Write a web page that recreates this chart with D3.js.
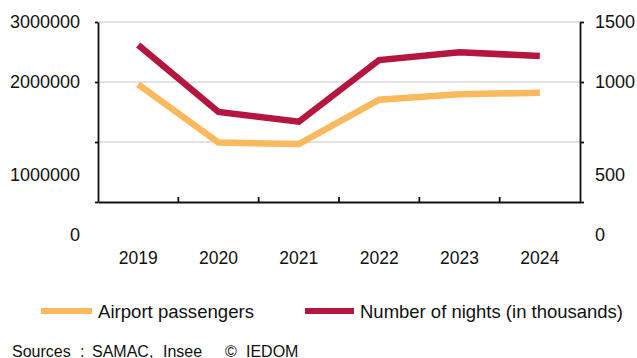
<!DOCTYPE html>
<html>
<head>
<meta charset="utf-8">
<script src="https://cdn.jsdelivr.net/npm/d3@7/dist/d3.min.js"></script>
<style>
  html, body { margin: 0; padding: 0; background: #fff; }
  svg { display: block; font-family: "Liberation Sans", Arial, sans-serif; }
  text { fill: #111; }
</style>
</head>
<body>
<svg id="chart" width="637" height="358"></svg>
<script>
// Years on the horizontal axis
const years = ["2019", "2020", "2021", "2022", "2023", "2024"];
// Airport passengers (left axis)
const passengers = [1960000, 990000, 967000, 1705000, 1795000, 1820000];
// Number of nights, in thousands (right axis)
const nights = [1308, 750, 669, 1183, 1247, 1217];
// Axis ticks
const leftTicks = [0, 1000000, 2000000, 3000000];
const rightTicks = [0, 500, 1000, 1500];
// Legend entries
const seriesNames = ["Airport passengers", "Number of nights (in thousands)"];
// Source note, word by word
const sourceWords = ["Sources", ":", "SAMAC,", "Insee", "\u00a9", "IEDOM"];

const colors = { passengers: "#F9B95C", nights: "#B5163F" };

const svg = d3.select("#chart");
const plot = { left: 98, right: 580, top: 22, bottom: 202 };

const x = d3.scaleBand().domain(years).range([plot.left, plot.right]);
const yL = d3.scaleLinear().domain([0, 3000000]).range([plot.bottom, plot.top]);
const yR = d3.scaleLinear().domain([0, 1500]).range([plot.bottom, plot.top]);
// Tick labels sit lower than their ticks for the lower values
const labelL = d3.scaleLinear().domain([0, 1000000, 2000000, 3000000]).range([235, 175, 82, 22]);
const labelR = d3.scaleLinear().domain([0, 500, 1000, 1500]).range([235, 175, 82, 22]);

// Horizontal gridlines
svg.append("g")
  .selectAll("line")
  .data(leftTicks.filter(d => d > 0))
  .join("line")
  .attr("x1", plot.left).attr("x2", plot.right)
  .attr("y1", d => yL(d)).attr("y2", d => yL(d))
  .attr("stroke", "#d9d9d9").attr("stroke-width", 1.5);

// Left axis
const gL = svg.append("g").attr("transform", `translate(${plot.left},0)`)
  .call(d3.axisLeft(yL).tickValues(leftTicks).tickSize(3).tickSizeOuter(0).tickFormat(""));
// Right axis
const gR = svg.append("g").attr("transform", `translate(${plot.right},0)`)
  .call(d3.axisRight(yR).tickValues(rightTicks).tickSize(4).tickSizeOuter(0).tickFormat(""));
// Bottom axis with ticks between categories
const gB = svg.append("g").attr("transform", `translate(0,${plot.bottom})`)
  .call(d3.axisBottom(x).tickSize(0).tickFormat(""));
gB.selectAll(".tick").remove();
gB.selectAll("line.sep")
  .data(years.slice(1))
  .join("line")
  .attr("class", "sep")
  .attr("x1", d => x(d)).attr("x2", d => x(d))
  .attr("y1", 0).attr("y2", -5);

[gL, gR, gB].forEach(g => {
  g.select(".domain").attr("stroke", "#111").attr("stroke-width", 1.8);
  g.selectAll("line").attr("stroke", "#111").attr("stroke-width", 1.8);
});

// Axis labels
svg.append("g").selectAll("text")
  .data(leftTicks).join("text")
  .attr("x", 80).attr("y", d => labelL(d))
  .attr("text-anchor", "end").attr("dominant-baseline", "central")
  .attr("font-size", 18)
  .text(d => d3.format("d")(d));

svg.append("g").selectAll("text")
  .data(rightTicks).join("text")
  .attr("x", 595).attr("y", d => labelR(d))
  .attr("text-anchor", "start").attr("dominant-baseline", "central")
  .attr("font-size", 18)
  .text(d => d3.format("d")(d));

svg.append("g").selectAll("text")
  .data(years).join("text")
  .attr("x", d => x(d) + x.bandwidth() / 2).attr("y", 258)
  .attr("text-anchor", "middle").attr("dominant-baseline", "central")
  .attr("font-size", 17.5)
  .text(d => d);

// Series lines
const lineL = d3.line().x((d, i) => x(years[i]) + x.bandwidth() / 2).y(d => yL(d));
const lineR = d3.line().x((d, i) => x(years[i]) + x.bandwidth() / 2).y(d => yR(d));

svg.append("path").datum(passengers)
  .attr("d", lineL).attr("fill", "none")
  .attr("stroke", colors.passengers).attr("stroke-width", 6.5)
  .attr("stroke-linejoin", "miter");

svg.append("path").datum(nights)
  .attr("d", lineR).attr("fill", "none")
  .attr("stroke", colors.nights).attr("stroke-width", 6.5)
  .attr("stroke-linejoin", "miter");

// Legend
const legend = [
  { name: seriesNames[0], color: colors.passengers, x0: 41, x1: 92, tx: 98, w: 156 },
  { name: seriesNames[1], color: colors.nights, x0: 305, x1: 354, tx: 360, w: 263 }
];
const lg = svg.append("g").selectAll("g").data(legend).join("g");
lg.append("line")
  .attr("x1", d => d.x0).attr("x2", d => d.x1)
  .attr("y1", 311).attr("y2", 311)
  .attr("stroke", d => d.color).attr("stroke-width", 6);
lg.append("text")
  .attr("x", d => d.tx).attr("y", 311)
  .attr("dominant-baseline", "central")
  .attr("font-size", 18.5)
  .attr("textLength", d => d.w)
  .attr("lengthAdjust", "spacingAndGlyphs")
  .text(d => d.name);

// Source note
const sourceX = [12, 80, 92, 163, 225, 246];
svg.append("g").selectAll("text")
  .data(sourceWords).join("text")
  .attr("x", (d, i) => sourceX[i]).attr("y", 351)
  .attr("dominant-baseline", "central")
  .attr("font-size", 16)
  .text(d => d);
</script>
</body>
</html>
